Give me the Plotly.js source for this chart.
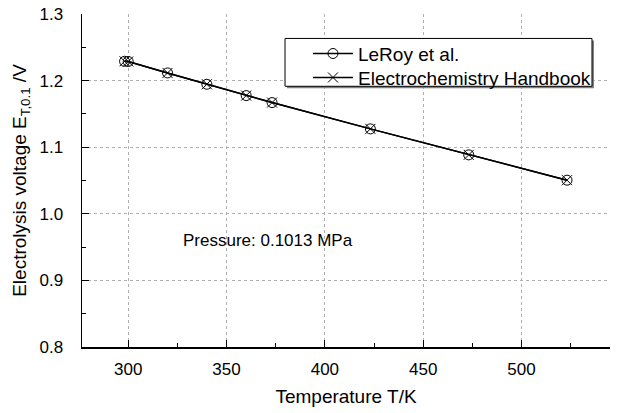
<!DOCTYPE html>
<html>
<head>
<meta charset="utf-8">
<script src="https://cdn.plot.ly/plotly-3.0.1.min.js"></script>
<style>html,body{margin:0;padding:0;background:#fff;}#chart{width:618px;height:413px;}</style>
</head>
<body>
<div id="chart"></div>
<script>
const temperatures = [298.15, 300, 320, 340, 360, 373.15, 423.15, 473.15, 523.15];
const leroyVoltage = [1.229, 1.2287, 1.2115, 1.1945, 1.1775, 1.1670, 1.1275, 1.0885, 1.0505];
const handbookVoltage = [1.229, 1.2287, 1.2115, 1.1945, 1.1775, 1.1670, 1.1275, 1.0885, 1.0505];
const seriesNames = ["LeRoy et al.", "Electrochemistry Handbook"];
const xTicks = [300, 350, 400, 450, 500];
const yTicks = [0.8, 0.9, 1.0, 1.1, 1.2, 1.3];
const yTickText = ["0.8", "0.9", "1.0", "1.1", "1.2", "1.3"];
const yGridVals = [0.9, 1.0, 1.1, 1.2];

const FONT = "Liberation Sans, Arial, sans-serif";
const X_RANGE = [276.5, 545];
const Y_RANGE = [0.8, 1.3];

const traces = [
  {
    x: temperatures, y: leroyVoltage, name: seriesNames[0],
    mode: "lines+markers", xaxis: "x", yaxis: "y", legend: "legend",
    line: {color: "#000", width: 1.5},
    marker: {symbol: "circle-open", size: 10, color: "#000", line: {width: 1, color: "#000"}}
  },
  {
    x: temperatures, y: handbookVoltage, name: seriesNames[1],
    mode: "lines+markers", xaxis: "x", yaxis: "y2", legend: "legend2",
    line: {color: "#000", width: 1.5},
    marker: {symbol: "x-thin-open", size: 10, color: "#000", line: {width: 1, color: "#000"}}
  }
];

const legendStyle = {
  xanchor: "left", yanchor: "top",
  bgcolor: "rgba(0,0,0,0)", borderwidth: 0,
  font: {family: FONT, size: 19, color: "#000"},
  itemwidth: 40
};

const layout = {
  width: 618, height: 413,
  margin: {l: 82, r: 8, t: 14, b: 66},
  paper_bgcolor: "#fff", plot_bgcolor: "#fff",
  font: {family: FONT, size: 17, color: "#000"},
  showlegend: true,
  legend: Object.assign({x: 0.428, y: 0.938}, legendStyle),
  legend2: Object.assign({x: 0.428, y: 0.866}, legendStyle),
  shapes: [
    {type: "rect", xref: "paper", yref: "paper", x0: 0.3883, x1: 0.9697, y0: 0.7769, y1: 0.9207,
     line: {width: 0}, fillcolor: "#808080", layer: "above"},
    {type: "rect", xref: "paper", yref: "paper", x0: 0.3845, x1: 0.9659, y0: 0.7829, y1: 0.9266,
     line: {width: 1, color: "#000"}, fillcolor: "#fff", layer: "above"}
  ],
  xaxis: {
    range: X_RANGE,
    tickvals: xTicks, ticktext: xTicks.map(String),
    ticks: "inside", ticklen: 7, tickwidth: 1, tickcolor: "#000",
    ticklabelstandoff: 6,
    showline: true, linecolor: "#000", linewidth: 1.5, mirror: false,
    showgrid: true, gridcolor: "#b0b0b0", griddash: "dot", gridwidth: 1,
    zeroline: false,
    minor: {dtick: 25, tick0: 275, ticks: "inside", ticklen: 4, tickcolor: "#000", showgrid: false},
    tickfont: {family: FONT, size: 17, color: "#000"},
    title: {text: "Temperature T/K", font: {family: FONT, size: 19, color: "#000"}, standoff: 12}
  },
  yaxis: {
    range: Y_RANGE,
    tickvals: yTicks, ticktext: yTickText,
    ticks: "inside", ticklen: 7, tickwidth: 1, tickcolor: "#000",
    ticklabelstandoff: 14,
    showline: true, linecolor: "#000", linewidth: 1.5, mirror: false,
    showgrid: false,
    zeroline: false,
    minor: {dtick: 0.05, tick0: 0.8, ticks: "inside", ticklen: 4, tickcolor: "#000", showgrid: false},
    tickfont: {family: FONT, size: 17, color: "#000"},
    title: {text: "Electrolysis voltage E<sub>T,0.1</sub> /V", font: {family: FONT, size: 19, color: "#000"}, standoff: 8}
  },
  yaxis2: {
    range: Y_RANGE, overlaying: "y", side: "left",
    tickvals: yGridVals, showticklabels: false, ticks: "",
    showline: false, zeroline: false,
    showgrid: true, gridcolor: "#b0b0b0", griddash: "dot", gridwidth: 1
  },
  annotations: [
    {x: 327, y: 0.96, xref: "x", yref: "y", xanchor: "left", yanchor: "middle",
     text: "Pressure: 0.1013 MPa", showarrow: false,
     font: {family: FONT, size: 17, color: "#000"}}
  ]
};

Plotly.newPlot("chart", traces, layout, {displayModeBar: false, staticPlot: true});
</script>
</body>
</html>
